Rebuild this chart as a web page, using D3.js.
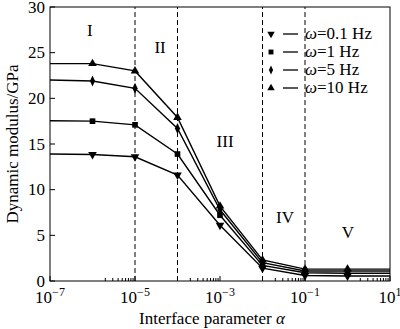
<!DOCTYPE html>
<html><head><meta charset="utf-8">
<script src="https://cdn.jsdelivr.net/npm/d3@7"></script>
<style>body{margin:0;background:#fff}svg{display:block}text{font-family:"Liberation Serif","Times New Roman",serif;fill:#000}</style>
</head><body>
<script>
const alphaExp = [-7, -6, -5, -4, -3, -2, -1, 0, 1];
const s01 = [13.9, 13.85, 13.6, 11.6, 6.1, 1.4, 0.6, 0.55, 0.55];
const s1 = [17.55, 17.5, 17.1, 13.9, 7.2, 1.7, 0.9, 0.85, 0.85];
const s5 = [22.0, 21.9, 21.1, 16.7, 7.8, 2.0, 1.1, 1.1, 1.1];
const s10 = [23.8, 23.8, 23.0, 17.9, 8.2, 2.3, 1.3, 1.3, 1.3];
const seriesNames = ["\u03c9=0.1 Hz", "\u03c9=1 Hz", "\u03c9=5 Hz", "\u03c9=10 Hz"];
const seriesMarkers = ["triangle-down", "square", "diamond", "triangle"];
const yTicks = [0, 5, 10, 15, 20, 25, 30];
const xTickExp = [-7, -5, -3, -1, 1];
const dividerExp = [-5, -4, -2, -1];
const regionLabels = ["I", "II", "III", "IV", "V"];
const regionPos = [[-6.06, 26.8], [-4.41, 25.0], [-2.88, 14.7], [-1.47, 6.35], [0.01, 4.7]];

const W = 400, H = 329;
const m = {l: 50, r: 10, t: 7, b: 48};
const FS = 17;
const svg = d3.select("body").append("svg").attr("width", W).attr("height", H);
const x = d3.scaleLog().domain([1e-7, 1e1]).range([m.l, W - m.r]);
const y = d3.scaleLinear().domain([0, 30]).range([H - m.b, m.t]);

const all = [s01, s1, s5, s10];
const symType = {"triangle-down": d3.symbolTriangle, "square": d3.symbolSquare, "diamond": d3.symbolDiamond, "triangle": d3.symbolTriangle};
const symTf = t => (t === "triangle-down" ? " rotate(180)" : "") + (t === "diamond" ? " scale(0.8,1)" : "");

// dividers
svg.append("g").selectAll("line").data(dividerExp).join("line")
  .attr("x1", d => x(10 ** d)).attr("x2", d => x(10 ** d))
  .attr("y1", y(0)).attr("y2", y(30))
  .attr("stroke", "#000").attr("stroke-width", 1).attr("stroke-dasharray", "5,3");

// axes box
svg.append("rect").attr("x", m.l).attr("y", m.t).attr("width", W - m.r - m.l).attr("height", H - m.b - m.t)
  .attr("fill", "none").attr("stroke", "#000").attr("stroke-width", 1);

// x ticks major
const xg = svg.append("g");
xTickExp.forEach(e => {
  const px = x(10 ** e);
  xg.append("line").attr("x1", px).attr("x2", px).attr("y1", y(0)).attr("y2", y(0) - 5).attr("stroke", "#000");
  const t = xg.append("text").attr("x", px).attr("y", y(0) + 22).attr("text-anchor", "middle").attr("font-size", FS);
  t.append("tspan").text("10");
  t.append("tspan").attr("dy", -7).attr("font-size", 12).text(e < 0 ? "\u2212" + (-e) : String(e));
});
// minor ticks in the decade below each major tick (except first)
xTickExp.slice(1).forEach(e => {
  for (let k = 2; k <= 9; k++) {
    const v = k * 10 ** (e - 1);
    xg.append("line").attr("x1", x(v)).attr("x2", x(v)).attr("y1", y(0)).attr("y2", y(0) - 3).attr("stroke", "#000");
  }
});

// y ticks
const yg = svg.append("g");
yTicks.forEach(v => {
  yg.append("line").attr("x1", m.l).attr("x2", m.l + 5).attr("y1", y(v)).attr("y2", y(v)).attr("stroke", "#000");
  yg.append("text").attr("x", m.l - 5).attr("y", y(v) + 5.5).attr("text-anchor", "end").attr("font-size", FS).text(v);
});

// titles
const xt = svg.append("text").attr("x", 212).attr("y", H - 5).attr("text-anchor", "middle").attr("font-size", FS);
xt.append("tspan").text("Interface parameter ");
xt.append("tspan").attr("font-style", "italic").text("\u03b1");
svg.append("text").attr("transform", `translate(18,${(m.t + H - m.b) / 2}) rotate(-90)`)
  .attr("text-anchor", "middle").attr("font-size", FS).text("Dynamic modulus/GPa");

// region labels
svg.append("g").selectAll("text").data(regionLabels).join("text")
  .attr("x", (d, i) => x(10 ** regionPos[i][0])).attr("y", (d, i) => y(regionPos[i][1]))
  .attr("text-anchor", "middle").attr("font-size", FS).text(d => d);

// lines + markers
const line = d3.line().x((d, i) => x(10 ** alphaExp[i])).y(d => y(d));
all.forEach((s, si) => {
  svg.append("path").attr("d", line(s)).attr("fill", "none").attr("stroke", "#000").attr("stroke-width", 1.4);
  const t = seriesMarkers[si];
  const sym = d3.symbol().type(symType[t]).size(t === "diamond" ? 36 : 32);
  svg.append("g").selectAll("path").data(s.map((v, i) => [alphaExp[i], v]).filter(d => d[0] > -7 && d[0] < 1)).join("path")
    .attr("d", sym)
    .attr("transform", d => `translate(${x(10 ** d[0])},${y(d[1])})` + symTf(t))
    .attr("fill", "#000");
});

// legend
const lg = svg.append("g");
seriesNames.forEach((n, i) => {
  const cy = 34 + i * 18;
  const t = seriesMarkers[i];
  const sym = d3.symbol().type(symType[t]).size(24);
  lg.append("path").attr("d", sym).attr("transform", `translate(271,${cy})` + symTf(t)).attr("fill", "#000");
  lg.append("line").attr("x1", 283).attr("x2", 298).attr("y1", cy).attr("y2", cy).attr("stroke", "#000").attr("stroke-width", 1.3);
  const tx = lg.append("text").attr("x", 305).attr("y", cy + 5).attr("font-size", FS);
  tx.append("tspan").attr("font-style", "italic").text(n.slice(0, 1));
  tx.append("tspan").text(n.slice(1));
});
</script>
</body></html>
